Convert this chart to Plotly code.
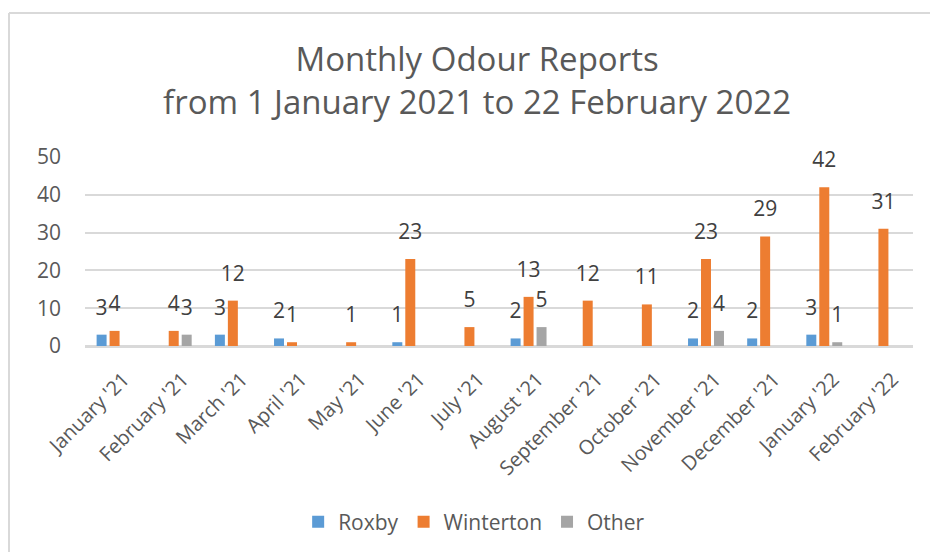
import plotly.graph_objects as go

months = ["January '21", "February '21", "March '21", "April '21", "May '21", "June '21",
          "July '21", "August '21", "September '21", "October '21", "November '21",
          "December '21", "January '22", "February '22"]
roxby = [3, None, 3, 2, None, 1, None, 2, None, None, 2, 2, 3, None]
winterton = [4, 4, 12, 1, 1, 23, 5, 13, 12, 11, 23, 29, 42, 31]
other = [None, 3, None, None, None, None, None, 5, None, None, 4, None, 1, None]

series = [("Roxby", roxby, "#5B9BD5"), ("Winterton", winterton, "#ED7D31"), ("Other", other, "#A5A5A5")]

FONT = "Open Sans"
fig = go.Figure()
for name, vals, col in series:
    fig.add_trace(go.Bar(
        x=months, y=vals, name=name, marker=dict(color=col, line=dict(width=0)),
        hoverinfo="skip",
    ))
for name, vals, col in series:
    fig.add_trace(go.Scatter(
        x=months, y=vals, name=name, mode="markers+text", showlegend=False,
        text=[("" if v is None else str(v)) for v in vals],
        textposition="top center", cliponaxis=False,
        marker=dict(size=22, opacity=0, color=col),
        textfont=dict(family=FONT, size=21, color="#404040"),
        hoverinfo="skip",
    ))

fig.update_layout(
    width=930, height=552,
    paper_bgcolor="white", plot_bgcolor="white",
    font=dict(family=FONT, color="#595959"),
    margin=dict(l=85, r=17, t=157, b=206),
    barmode="group", bargap=0.342, bargroupgap=0.23,
    scattermode="group", scattergap=0.342,
    title=dict(text="Monthly Odour Reports<br>from 1 January 2021 to 22 February 2022",
               x=0.513, xanchor="center", y=1 - 71 / 552, yanchor="middle",
               font=dict(family=FONT, size=33, color="#595959")),
    xaxis=dict(tickangle=-45, tickfont=dict(size=20, color="#595959"), showgrid=False,
               showline=True, linecolor="#D9D9D9", linewidth=1.5, ticks="",
               ticklabelstandoff=12, ticklabelshift=9),
    yaxis=dict(range=[0, 50], dtick=10, tickfont=dict(size=21, color="#595959"),
               gridcolor="#D9D9D9", gridwidth=1.5, zeroline=True, zerolinecolor="#D9D9D9",
               zerolinewidth=1.5, ticks="", ticklabelstandoff=23),
    legend=dict(orientation="h", x=0.47, xanchor="center", yref="container",
                y=1 - 522 / 552, yanchor="middle", font=dict(size=21, color="#595959"),
                traceorder="normal"),
    showlegend=True,
)

bx = -76 / 828
ty = 1 + 144 / 189
fig.add_shape(type="line", xref="paper", yref="paper", x0=bx, x1=1.03,
              y0=ty, y1=ty, line=dict(color="#D9D9D9", width=2))
fig.add_shape(type="line", xref="paper", yref="paper", x0=bx, x1=bx,
              y0=ty, y1=-206 / 189, line=dict(color="#D9D9D9", width=2))

fig.write_html("out.html", config={"displayModeBar": False},
               post_script="document.body.style.margin='0';")
